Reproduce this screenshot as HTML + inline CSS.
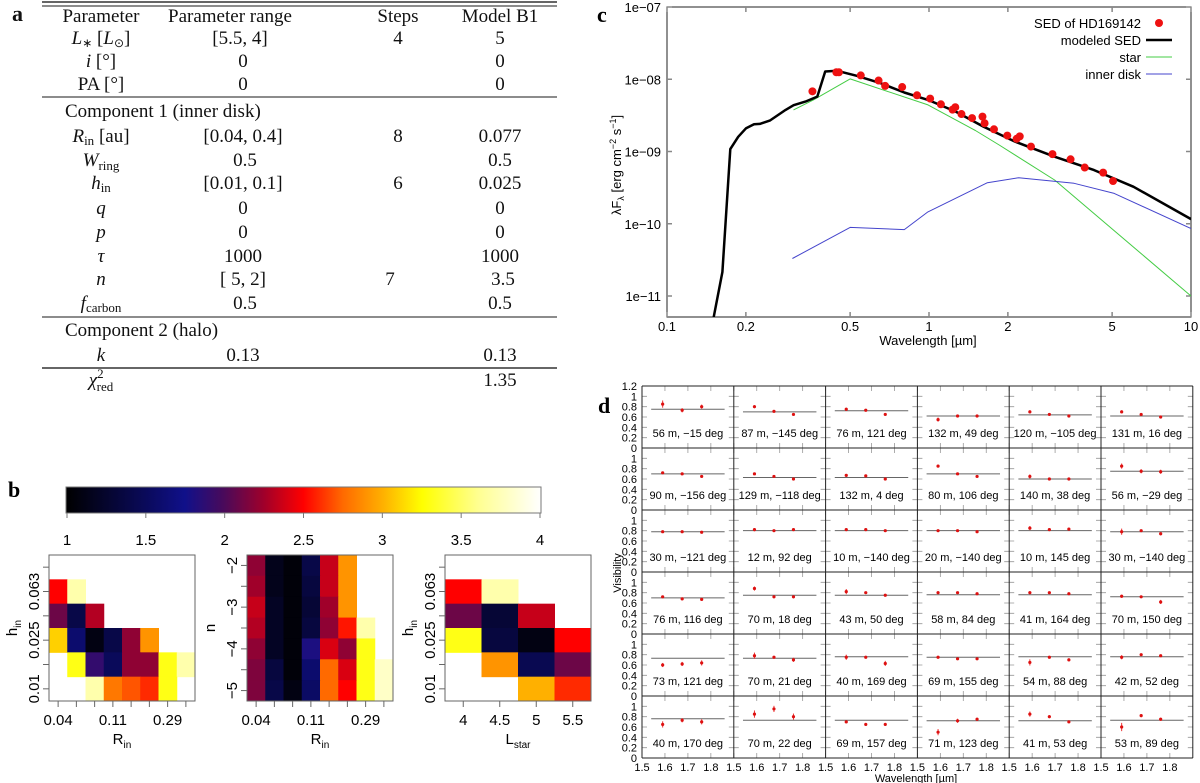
<!DOCTYPE html>
<html><head><meta charset="utf-8"><style>
html,body{margin:0;padding:0;background:#fff;}
svg{display:block;}
.serif{font-family:"Liberation Serif",serif;}
.sans{font-family:"Liberation Sans",sans-serif;}
</style></head>
<body>
<svg id="fig" width="1200" height="783" viewBox="0 0 1200 783" xmlns="http://www.w3.org/2000/svg">
<g id="table" class="serif" font-size="19" fill="#111">
  <text x="12" y="21" font-weight="bold" font-size="22">a</text>
  <line x1="42" y1="2" x2="557" y2="2" stroke="#666" stroke-width="2"/>
  <line x1="42" y1="6" x2="557" y2="6" stroke="#666" stroke-width="1.5"/>
  <g text-anchor="middle">
    <text x="101" y="22">Parameter</text><text x="230" y="22">Parameter range</text><text x="398" y="22">Steps</text><text x="500" y="22">Model B1</text>
  </g>
  <g text-anchor="middle">
    <text x="101" y="44"><tspan font-style="italic">L</tspan><tspan font-size="12" dy="3">∗</tspan><tspan dy="-3"> [</tspan><tspan font-style="italic">L</tspan><tspan font-size="12" dy="3">⊙</tspan><tspan dy="-3">]</tspan></text>
    <text x="240" y="44">[5.5, 4]</text><text x="398" y="44">4</text><text x="500" y="44">5</text>
    <text x="101" y="67"><tspan font-style="italic">i</tspan> [°]</text><text x="243" y="67">0</text><text x="500" y="67">0</text>
    <text x="101" y="90">PA [°]</text><text x="243" y="90">0</text><text x="500" y="90">0</text>
    <text x="65" y="117" text-anchor="start">Component 1 (inner disk)</text>
    <text x="101" y="142"><tspan font-style="italic">R</tspan><tspan font-size="13" dy="3">in</tspan><tspan dy="-3"> [au]</tspan></text>
    <text x="243" y="142">[0.04, 0.4]</text><text x="398" y="142">8</text><text x="500" y="142">0.077</text>
    <text x="101" y="166"><tspan font-style="italic">W</tspan><tspan font-size="13" dy="4">ring</tspan></text><text x="245" y="166">0.5</text><text x="500" y="166">0.5</text>
    <text x="101" y="189"><tspan font-style="italic">h</tspan><tspan font-size="13" dy="3">in</tspan></text><text x="243" y="189">[0.01, 0.1]</text><text x="398" y="189">6</text><text x="500" y="189">0.025</text>
    <text x="101" y="214" font-style="italic">q</text><text x="243" y="214">0</text><text x="500" y="214">0</text>
    <text x="101" y="238" font-style="italic">p</text><text x="243" y="238">0</text><text x="500" y="238">0</text>
    <text x="101" y="262" font-style="italic">τ</text><text x="243" y="262">1000</text><text x="500" y="262">1000</text>
    <text x="101" y="285" font-style="italic">n</text><text x="243" y="285">[  5,     2]</text><text x="390" y="285">7</text><text x="503" y="285">3.5</text>
    <text x="101" y="309"><tspan font-style="italic">f</tspan><tspan font-size="13" dy="3">carbon</tspan></text><text x="245" y="309">0.5</text><text x="500" y="309">0.5</text>
    <text x="65" y="336" text-anchor="start">Component 2 (halo)</text>
    <text x="101" y="361" font-style="italic">k</text><text x="243" y="361">0.13</text><text x="500" y="361">0.13</text>
    <text x="101" y="386"><tspan font-style="italic">χ</tspan><tspan font-size="13" dy="-8">2</tspan><tspan font-size="13" dx="-7" dy="13">red</tspan></text><text x="500" y="386">1.35</text>
  </g>
  <line x1="42" y1="97" x2="557" y2="97" stroke="#666" stroke-width="1.5"/>
  <line x1="42" y1="317" x2="557" y2="317" stroke="#666" stroke-width="1.5"/>
  <line x1="42" y1="368" x2="557" y2="368" stroke="#333" stroke-width="1.5"/>
</g>
<defs><clipPath id="sedclip"><rect x="667" y="7" width="524" height="310"/></clipPath></defs>
<g id="sed" class="sans"></g>
<g id="heat" class="sans"></g>
<g id="vis" class="sans"></g>
</svg>
<script>
// ---------- SED data ----------
const sedObsWave = [0.359,0.443,0.453,0.549,0.642,0.68,0.79,0.90,1.01,1.11,1.23,1.26,1.33,1.46,1.60,1.63,1.77,1.99,2.16,2.22,2.45,2.96,3.47,3.93,4.62,5.04];
const sedObsFlux = [6.8e-9,1.25e-8,1.25e-8,1.13e-8,9.6e-9,8.1e-9,7.8e-9,6.0e-9,5.4e-9,4.5e-9,3.8e-9,4.1e-9,3.3e-9,2.9e-9,3.04e-9,2.46e-9,2.03e-9,1.66e-9,1.5e-9,1.62e-9,1.17e-9,9.2e-10,7.8e-10,6.0e-10,5.1e-10,3.9e-10];
const modelWave = [0.1507,0.1627,0.1744,0.1869,0.2004,0.2148,0.2263,0.2469,0.2837,0.3041,0.3376,0.3746,0.4016,0.4458,0.5303,0.6535,0.8049,0.9913,1.265,1.613,2.130,3.015,4.268,6.040,10];
const modelFlux = [5.1e-12,2.15e-11,1.08e-9,1.6e-9,2.1e-9,2.38e-9,2.41e-9,2.68e-9,3.77e-9,4.37e-9,4.91e-9,5.76e-9,1.28e-8,1.31e-8,1.115e-8,8.83e-9,6.55e-9,5.18e-9,3.57e-9,2.21e-9,1.37e-9,8.48e-10,5.53e-10,3.25e-10,1.16e-10];
const starWave = [0.304,0.362,0.5,0.991,1.504,1.853,3.015,10];
const starFlux = [3.77e-9,5.18e-9,1.01e-8,4.42e-9,1.95e-9,1.23e-9,4.03e-10,1.0e-11];
const diskWave = [0.301,0.5,0.805,0.99,1.67,2.2,3.58,5.09,10];
const diskFlux = [3.3e-11,8.9e-11,8.3e-11,1.46e-10,3.7e-10,4.34e-10,3.63e-10,2.63e-10,8.6e-11];
const sedXTicks = [0.1,0.2,0.5,1,2,5,10];
const sedXTickLabels = ["0.1","0.2","0.5","1","2","5","10"];
const sedYTicks = [1e-7,1e-8,1e-9,1e-10,1e-11];
const sedYTickLabels = ["1e−07","1e−08","1e−09","1e−10","1e−11"];

// ---------- Heatmap data ----------
const cbarTicks = [1,1.5,2,2.5,3,3.5,4];
const hm1 = [
 [null,null,null,null,null,null,null,null],
 [2.5,3.7,null,null,null,null,null,null],
 [2.1,1.4,2.3,null,null,null,null,null],
 [3.1,1.6,1.1,1.4,2.2,2.9,null,null],
 [null,3.3,1.9,1.5,2.2,2.2,3.3,3.7],
 [null,null,3.7,2.8,2.7,2.6,3.3,null]];
const hm2 = [
 [2.2,1.15,1.05,1.4,2.35,2.9,null,null],
 [2.25,1.15,1.05,1.35,2.35,2.9,null,null],
 [2.35,1.2,1.05,1.3,2.25,2.9,null,null],
 [2.3,1.2,1.05,1.35,2.2,2.55,3.7,null],
 [2.2,1.2,1.05,1.8,2.4,2.2,3.3,null],
 [2.15,1.35,1.05,1.6,2.75,2.4,3.3,3.8],
 [2.15,1.4,1.1,1.55,2.75,2.5,3.3,3.8]];
const hm3 = [
 [null,null,null,null],
 [2.5,3.7,null,null],
 [2.1,1.3,2.35,null],
 [3.3,1.35,1.1,2.5],
 [null,2.9,1.45,2.1],
 [null,null,3.0,2.6]];
const hinLabels = ["","0.063","","0.025","","0.01"];
const rinLabels = ["0.04","","","0.11","","","0.29",""];
const nLabels = ["−2","","−3","","−4","","−5"];
const lstarLabels = ["4","4.5","5","5.5"];

// ---------- Visibility data ----------
const visLabels = [
 "56 m, −15 deg","87 m, −145 deg","76 m, 121 deg","132 m, 49 deg","120 m, −105 deg","131 m, 16 deg",
 "90 m, −156 deg","129 m, −118 deg","132 m, 4 deg","80 m, 106 deg","140 m, 38 deg","56 m, −29 deg",
 "30 m, −121 deg","12 m, 92 deg","10 m, −140 deg","20 m, −140 deg","10 m, 145 deg","30 m, −140 deg",
 "76 m, 116 deg","70 m, 18 deg","43 m, 50 deg","58 m, 84 deg","41 m, 164 deg","70 m, 150 deg",
 "73 m, 121 deg","70 m, 21 deg","40 m, 169 deg","69 m, 155 deg","54 m, 88 deg","42 m, 52 deg",
 "40 m, 170 deg","70 m, 22 deg","69 m, 157 deg","71 m, 123 deg","41 m, 53 deg","53 m, 89 deg"];
const visWave = [1.59,1.675,1.76];
const visObs = [
 [.85,.73,.80],[.80,.71,.65],[.75,.73,.65],[.55,.62,.62],[.70,.65,.62],[.70,.65,.60],
 [.72,.70,.65],[.70,.65,.60],[.67,.66,.60],[.85,.70,.65],[.65,.60,.60],[.85,.75,.74],
 [.78,.78,.77],[.82,.80,.82],[.82,.82,.80],[.80,.80,.78],[.85,.82,.83],[.78,.80,.74],
 [.72,.68,.67],[.88,.72,.72],[.82,.80,.75],[.80,.80,.78],[.80,.80,.78],[.73,.72,.62],
 [.60,.62,.64],[.78,.75,.70],[.75,.75,.63],[.75,.72,.72],[.65,.75,.70],[.75,.80,.78],
 [.65,.73,.70],[.85,.95,.80],[.70,.65,.65],[.50,.72,.75],[.85,.80,.70],[.60,.82,.75]];
const visErr = [
 [.07,.04,.04],[.03,.02,.02],[.03,.02,.02],[.04,.02,.02],[.03,.02,.02],[.03,.02,.02],
 [.02,.02,.02],[.02,.02,.02],[.02,.02,.02],[.03,.02,.02],[.04,.02,.02],[.05,.04,.04],
 [.02,.02,.02],[.03,.02,.02],[.02,.02,.02],[.02,.02,.02],[.04,.02,.02],[.06,.02,.03],
 [.02,.02,.02],[.04,.03,.03],[.05,.02,.02],[.03,.02,.02],[.03,.02,.02],[.03,.02,.04],
 [.04,.04,.05],[.06,.02,.04],[.05,.02,.05],[.02,.02,.02],[.06,.02,.03],[.04,.02,.02],
 [.06,.04,.05],[.07,.06,.06],[.03,.03,.03],[.06,.04,.03],[.05,.03,.02],[.08,.03,.03]];
const visModel = [.75,.70,.72,.62,.64,.62, .70,.63,.63,.70,.60,.75, .78,.80,.80,.80,.80,.78, .70,.75,.75,.76,.76,.72, .73,.73,.76,.75,.76,.76, .76,.73,.73,.72,.72,.73];
const visXTicks = [1.5,1.6,1.7,1.8];
const visYTicks = [0,0.2,0.4,0.6,0.8,1,1.2];

const NS = "http://www.w3.org/2000/svg";
function mk(tag, attrs, parent, text){
  const e = document.createElementNS(NS, tag);
  for (const k in attrs) e.setAttribute(k, attrs[k]);
  if (text !== undefined) e.textContent = text;
  parent.appendChild(e);
  return e;
}

// ================= SED =================
const sed = document.getElementById('sed');
const sx = l => 667 + (Math.log10(l) + 1) * 262;
const sy = f => 7 + (-7 - Math.log10(f)) * 72.25;
let t = mk('text',{x:597,y:22,'font-family':'Liberation Serif, serif','font-weight':'bold','font-size':22},sed,'c');


let r = mk('rect',{x:667,y:7,width:524,height:310,fill:'none',stroke:'#222','stroke-width':1},sed);


sedXTicks.forEach((v,i)=>{
  const x = sx(v);
  let tk = mk('path',{d:`M${x},317v-5M${x},7v5`,stroke:'#888','stroke-width':1.5},sed);
  
  
  let lb = mk('text',{x:x,y:331,'text-anchor':'middle','font-size':13},sed,sedXTickLabels[i]);
  
  
});
sedYTicks.forEach((v,i)=>{
  const y = sy(v);
  let tk = mk('path',{d:`M667,${y}h5M1191,${y}h-5`,stroke:'#888','stroke-width':1.5},sed);
  
  
  let lb = mk('text',{x:661,y:y+5,'text-anchor':'end','font-size':13},sed,sedYTickLabels[i]);
  
  
});
t = mk('text',{x:928,y:345,'text-anchor':'middle','font-size':13},sed,'Wavelength [µm]');


t = mk('text',{transform:'translate(621,165) rotate(-90)','text-anchor':'middle','font-size':13},sed);


t.innerHTML = 'λF<tspan font-size="9" dy="3">λ</tspan><tspan dy="-3"> [erg cm</tspan><tspan font-size="9" dy="-5">−2</tspan><tspan dy="5"> s</tspan><tspan font-size="9" dy="-5">−1</tspan><tspan dy="5">]</tspan>';
const plotG = mk('g',{'clip-path':'url(#sedclip)'},sed);


function line(ws, fs, color, w, name){
  const d = ws.map((l,i)=>(i?'L':'M')+sx(l).toFixed(1)+','+sy(fs[i]).toFixed(1)).join('');
  const p = mk('path',{d:d,fill:'none',stroke:color,'stroke-width':w,'stroke-linejoin':'round'},plotG);
  
  
}
line(starWave, starFlux, '#44cc44', 1, 'star-line');
line(diskWave, diskFlux, '#4444cc', 1, 'inner-disk-line');
line(modelWave, modelFlux, '#000', 2.5, 'modeled-sed-line');
sedObsWave.forEach((l,i)=>{
  const c = mk('circle',{cx:sx(l),cy:sy(sedObsFlux[i]),r:4,fill:'#ee1111'},plotG);
  
  
});
const legendItems = [['SED of HD169142','dot'],['modeled SED','#000'],['star','#44cc44'],['inner disk','#4444cc']];
legendItems.forEach((it,i)=>{
  const y = 23 + i*17;
  const lt = mk('text',{x:1141,y:y+5,'text-anchor':'end','font-size':13},sed,it[0]);
  
  
  let m;
  if (it[1]==='dot') m = mk('circle',{cx:1159,cy:y,r:4,fill:'#ee1111'},sed);
  else m = mk('line',{x1:1146,y1:y,x2:1172,y2:y,stroke:it[1],'stroke-width':i===1?2.5:1},sed);
  
  
});

// ================= Heatmaps =================
const heat = document.getElementById('heat');
const cstops = [[1,[0,0,0]],[1.5,[10,10,90]],[1.75,[16,16,138]],[2,[74,10,90]],[2.25,[160,0,42]],[2.5,[255,0,0]],[2.75,[255,106,0]],[3,[255,176,0]],[3.25,[255,255,0]],[3.6,[255,255,144]],[4,[255,255,255]]];
function cmap(v){
  for (let i=1;i<cstops.length;i++){
    if (v<=cstops[i][0]){
      const a=cstops[i-1], b=cstops[i], f=(v-a[0])/(b[0]-a[0]);
      const c=a[1].map((x,j)=>Math.round(x+(b[1][j]-x)*f));
      return `rgb(${c[0]},${c[1]},${c[2]})`;
    }
  }
  return '#fff';
}
t = mk('text',{x:8,y:497,'font-family':'Liberation Serif, serif','font-weight':'bold','font-size':22},heat,'b');


const defs = mk('defs',{},heat);
const grad = mk('linearGradient',{id:'cbgrad',x1:0,x2:1,y1:0,y2:0},defs);
cstops.forEach(s=>{ mk('stop',{offset:((s[0]-1)/3).toFixed(3),'stop-color':cmap(s[0])},grad); });
const cbx = v => 67 + (v-1)/3*473;
r = mk('rect',{x:66,y:487,width:475,height:26,fill:'url(#cbgrad)',stroke:'#777','stroke-width':1},heat);


cbarTicks.forEach(v=>{
  const tk = mk('line',{x1:cbx(v),y1:513,x2:cbx(v),y2:518,stroke:'#777'},heat);
  
  
  const lb = mk('text',{x:cbx(v),y:545,'text-anchor':'middle','font-size':15},heat,String(v));
  
  
});
function heatmap(data, x0, ylabels, xlabels, ytitle, xtitle, xsub, ysub, name){
  const g = mk('g',{},heat);
  
  
  const W=146, H=146, y0=555, nr=data.length, nc=data[0].length, cw=W/nc, rh=H/nr;
  data.forEach((row,ri)=>row.forEach((v,ci)=>{
    if (v===null) return;
    const c = mk('rect',{x:x0+ci*cw,y:y0+ri*rh,width:cw+0.5,height:rh+0.5,fill:cmap(v)},g);
    
    
  }));
  const fr = mk('rect',{x:x0,y:y0,width:W,height:H,fill:'none',stroke:'#666'},g);
  
  
  ylabels.forEach((lab,i)=>{
    const y = y0+(i+0.5)*rh;
    const tk = mk('line',{x1:x0-6,y1:y,x2:x0,y2:y,stroke:'#666'},g);
    
    
    if (lab){
      const lb = mk('text',{transform:`translate(${x0-10},${y}) rotate(-90)`,'text-anchor':'middle','font-size':15},g,lab);
      
      
    }
  });
  xlabels.forEach((lab,i)=>{
    const x = x0+(i+0.5)*cw;
    const tk = mk('line',{x1:x,y1:y0+H,x2:x,y2:y0+H+6,stroke:'#666'},g);
    
    
    if (lab){
      const lb = mk('text',{x:x,y:y0+H+24,'text-anchor':'middle','font-size':15},g,lab);
      
      
    }
  });
  const xt = mk('text',{x:x0+W/2,y:y0+H+43,'text-anchor':'middle','font-size':15},g);
  
  
  xt.innerHTML = xtitle + (xsub?`<tspan font-size="10" dy="4">${xsub}</tspan>`:'');
  const yt = mk('text',{transform:`translate(${x0-32},${y0+H/2}) rotate(-90)`,'text-anchor':'middle','font-size':15},g);
  
  
  yt.innerHTML = ytitle + (ysub?`<tspan font-size="10" dy="4">${ysub}</tspan>`:'');
}
heatmap(hm1, 49, hinLabels, rinLabels, 'h', 'R', 'in', 'in', 'heatmap-hin-rin');
heatmap(hm2, 247, nLabels, rinLabels, 'n', 'R', 'in', '', 'heatmap-n-rin');
heatmap(hm3, 445, hinLabels, lstarLabels, 'h', 'L', 'star', 'in', 'heatmap-hin-lstar');

// ================= Visibility grid =================
const vis = document.getElementById('vis');
const VX0=642, VY0=386, CW=91.8, RH=62;
const vx = (col,w) => VX0 + col*CW + (w-1.5)/0.4*CW;
const vy = (row,v) => VY0 + row*RH + RH - v/1.2*RH;
t = mk('text',{x:598,y:413,'font-family':'Liberation Serif, serif','font-weight':'bold','font-size':22},vis,'d');


visLabels.forEach((lab,k)=>{
  const row = Math.floor(k/6), col = k%6;
  const g = mk('g',{},vis);
  
  
  visYTicks.forEach(v=>{
    const y = vy(row,v);
    const tk = mk('path',{d:`M${VX0+col*CW},${y}h5M${VX0+(col+1)*CW},${y}h-5`,stroke:'#999','stroke-width':0.8},g);
    
    
  });
  visXTicks.forEach(w=>{
    const x = vx(col,w);
    const tk = mk('path',{d:`M${x},${VY0+row*RH}v5M${x},${VY0+(row+1)*RH}v-5`,stroke:'#999','stroke-width':0.8},g);
    
    
  });
  const ml = mk('line',{x1:vx(col,1.54),y1:vy(row,visModel[k]),x2:vx(col,1.86),y2:vy(row,visModel[k]),stroke:'#666','stroke-width':1},g);
  
  
  visWave.forEach((w,j)=>{
    const v = visObs[k][j], e = visErr[k][j];
    const eb = mk('line',{x1:vx(col,w),y1:vy(row,v+e),x2:vx(col,w),y2:vy(row,v-e),stroke:'#ee3333','stroke-width':1},g);
    
    
    const p = mk('circle',{cx:vx(col,w),cy:vy(row,v),r:1.6,fill:'#dd1111'},g);
    
    
  });
  const lt = mk('text',{x:VX0+col*CW+CW/2,y:VY0+row*RH+51,'text-anchor':'middle','font-size':11},g,lab);
  
  
});
for (let i=0;i<=6;i++){
  const l = mk('line',{x1:VX0+i*CW,y1:VY0,x2:VX0+i*CW,y2:VY0+6*RH,stroke:'#222','stroke-width':1},vis);
  
  
  const h = mk('line',{x1:VX0,y1:VY0+i*RH,x2:VX0+6*CW,y2:VY0+i*RH,stroke:'#222','stroke-width':1},vis);
  
  
}
for (let row=0;row<6;row++){
  visYTicks.forEach(v=>{
    if (v===1.2 && row>0) return;
    const lb = mk('text',{x:637,y:vy(row,v)+4,'text-anchor':'end','font-size':11},vis,String(v));
    
    
  });
}
for (let col=0;col<6;col++){
  visXTicks.forEach(w=>{
    const lb = mk('text',{x:vx(col,w),y:771,'text-anchor':'middle','font-size':11},vis,String(w));
    
    
  });
}
t = mk('text',{x:916,y:782,'text-anchor':'middle','font-size':11},vis,'Wavelength [µm]');


t = mk('text',{transform:'translate(621,573) rotate(-90)','text-anchor':'middle','font-size':11},vis,'Visibility');


</script>
</body></html>
